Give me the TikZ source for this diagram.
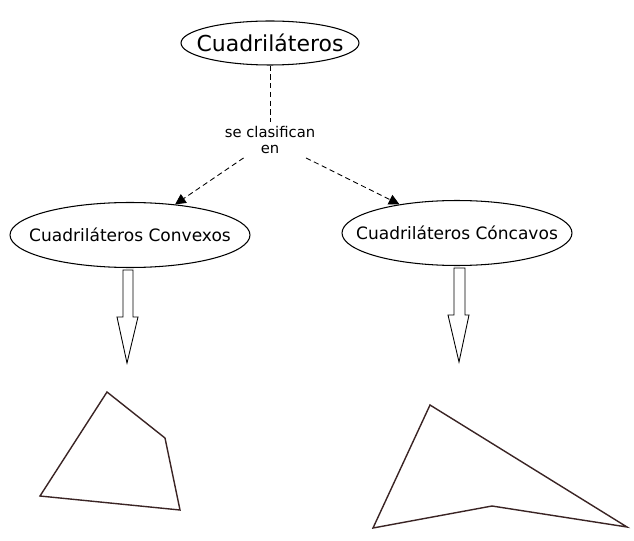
\documentclass[tikz,border=0pt]{standalone}
\usepackage{fontspec}
\setmainfont{DejaVu Sans}
\usetikzlibrary{arrows.meta,shapes.geometric}
\definecolor{edgeline}{HTML}{3A2424}
\tikzstyle{concept} = [draw, ellipse, line width=0.6pt, inner xsep=-12pt, inner ysep=0pt, text centered, align=center]
\tikzstyle{linking} = [inner sep=2pt, text centered, align=center, font=\fontsize{8.4}{9.5}\selectfont]
\tikzstyle{link} = [dashed, dash pattern=on 3pt off 2pt, line width=0.5pt]
\tikzstyle{quad} = [draw=edgeline, line width=0.8pt, line join=miter]
\tikzstyle{hollow} = [draw, line width=0.5pt, fill=white]

\begin{document}
\begin{tikzpicture}[x=0.02cm, y=-0.02cm]
    \useasboundingbox (0,0) rectangle (634,540);
    \draw (270,43)  node[concept, minimum width=3.56cm, minimum height=0.88cm, font=\fontsize{12.5}{14}\selectfont] (A) {Cuadriláteros};
    \draw (270,140) node[linking] (L) {se clasifican \\ en};
    \draw (130,235) node[concept, minimum width=4.8cm, minimum height=1.3cm, font=\fontsize{9.7}{11}\selectfont] (B) {Cuadriláteros Convexos};
    \draw (457,233) node[concept, minimum width=4.6cm, minimum height=1.3cm, font=\fontsize{9.7}{11}\selectfont] (C) {Cuadriláteros Cóncavos};
    \draw[link] (A) -- (L);
    \draw[link, -{Triangle[length=6pt,width=6pt]}] (L) -- (B);
    \draw[link, -{Triangle[length=6pt,width=6pt]}] (L) -- (C);
    % hollow arrows
    \draw[hollow] (123,270) -- (133,270) -- (133,317) -- (138,317) -- (127,363) -- (117,317) -- (123,317) -- cycle;
    \draw[hollow] (454,268) -- (465,268) -- (465,315) -- (469,315) -- (459,362) -- (448,315) -- (454,315) -- cycle;
    % quadrilaterals
    \draw[quad] (107,392) -- (165,438) -- (180,510) -- (40,496) -- cycle;
    \draw[quad] (430,405) -- (627,527) -- (492,506) -- (373,528) -- cycle;
\end{tikzpicture}
\end{document}
